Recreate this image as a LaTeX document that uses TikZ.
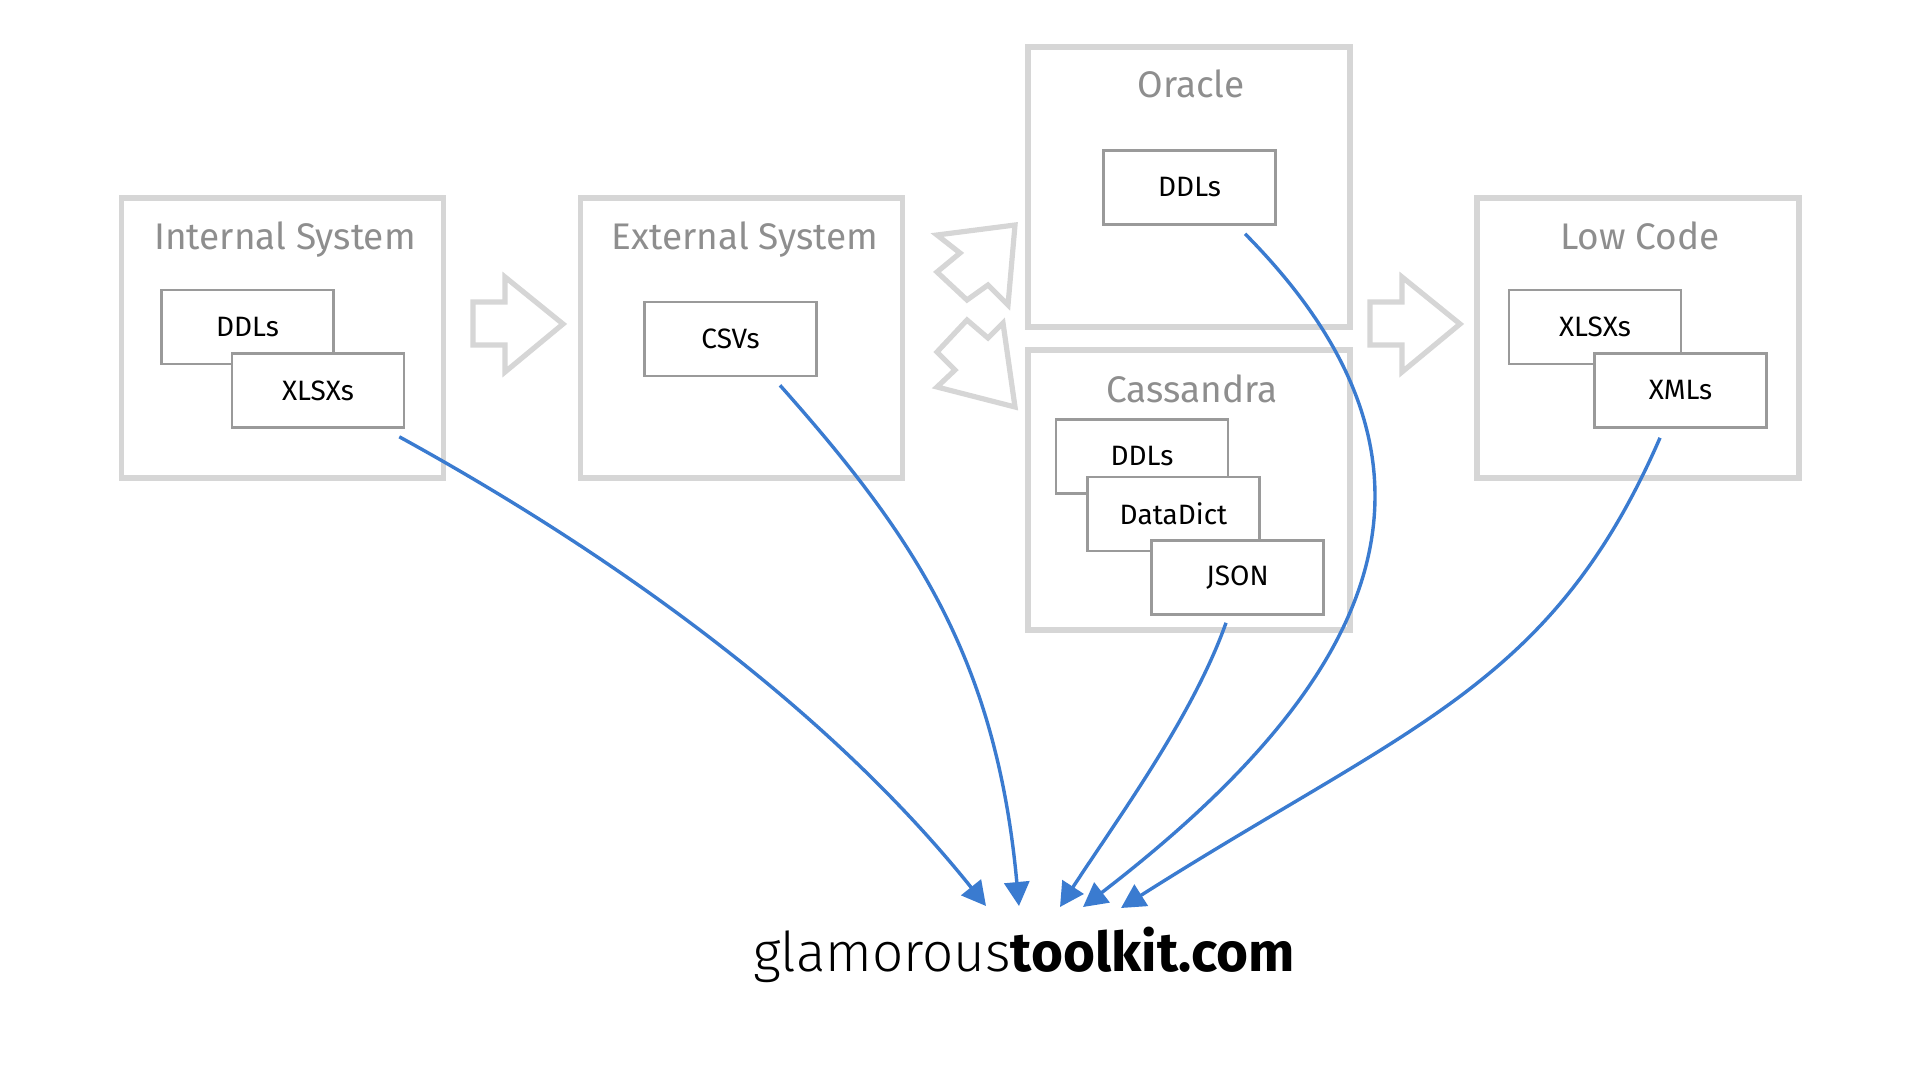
\documentclass[tikz,border=0pt]{standalone}
\usepackage{fontspec}
\setmainfont{Fira Sans}
\newfontfamily\gtlight{Fira Sans}[UprightFont={* Light},BoldFont={* Bold}]
\usetikzlibrary{arrows.meta}
\definecolor{outergray}{HTML}{D6D6D6}
\definecolor{innergray}{HTML}{9A9A9A}
\definecolor{titlegray}{HTML}{8E8E8E}
\definecolor{linkblue}{HTML}{3A7BD0}
\tikzset{
  outerbox/.style={draw=outergray,line width=2.8pt,minimum width=161pt,minimum height=140pt,inner sep=0pt},
  innerbox/.style={draw=innergray,fill=white,line width=1.3pt,minimum width=86pt,minimum height=37pt,inner sep=0pt,font=\fontsize{14}{16}\selectfont,text=black},
  boxtitle/.style={anchor=base,inner sep=0pt,text=titlegray,font=\fontsize{18.5}{21}\selectfont},
  blockarrow/.style={draw=outergray,line width=2.6pt,line join=miter},
  conn/.style={draw=linkblue,line width=1.7pt,-{Triangle[length=12pt,width=12.5pt]}}
}
\begin{document}
\begin{tikzpicture}[x=0.5pt,y=-0.5pt]
\useasboundingbox (0,0) rectangle (1920,1080);
% outer boxes
\node[outerbox] (internal) at (282.5,338) {};
\node[outerbox] (external) at (741.5,338) {};
\node[outerbox] (oracle) at (1189,187) {};
\node[outerbox] (cassandra) at (1189,490) {};
\node[outerbox] (lowcode) at (1638,338) {};
% titles
\node[boxtitle] (tint) at (285,250) {Internal System};
\node[boxtitle] (text) at (745,250) {External System};
\node[boxtitle] (tora) at (1191,98) {Oracle};
\node[boxtitle] (tcas) at (1192,402) {Cassandra};
\node[boxtitle] (tlow) at (1640,250) {Low Code};
% inner boxes
\node[innerbox] (iddl) at (247.5,327) {DDLs};
\node[innerbox] (ix) at (318,390.5) {XLSXs};
\node[innerbox] (cs) at (730.5,339) {CSVs};
\node[innerbox] (od) at (1189.5,187.5) {DDLs};
\node[innerbox] (cddl) at (1142,456.5) {DDLs};
\node[innerbox] (dd) at (1173.5,514) {DataDict};
\node[innerbox] (js) at (1237.5,577.5) {JSON};
\node[innerbox] (lx) at (1595,327) {XLSXs};
\node[innerbox] (xm) at (1680.5,390.5) {XMLs};
% block arrows
\draw[blockarrow] (473,302) -- (505,302) -- (505,277) -- (563,324) -- (505,372) -- (505,345) -- (473,345) -- cycle;
\draw[blockarrow] (1370,302) -- (1402,302) -- (1402,277) -- (1460,324) -- (1402,372) -- (1402,345) -- (1370,345) -- cycle;
\draw[blockarrow] (1015,225) -- (937,235) -- (960,253) -- (937,272) -- (967,300) -- (988,285) -- (1008,305) -- cycle;
\draw[blockarrow] (1015,407) -- (937,387) -- (955,370) -- (937,352) -- (967,320) -- (988,338) -- (1003,323) -- cycle;
% targets
\coordinate (t1) at (986,906);
\coordinate (t2) at (1019,906);
\coordinate (t3) at (1060,907);
\coordinate (t4) at (1083,907);
\coordinate (t5) at (1121,908);
% connectors
\draw[conn] ([shift={(-6,8)}]ix.south east) .. controls (618,557) and (830,711) .. (t1);
\draw[conn] ([shift={(49.5,8)}]cs.south) .. controls (912,534) and (996,656) .. (t2);
\draw[conn] ([shift={(-11.5,7)}]js.south) .. controls (1193,716) and (1118,818) .. (t3);
\draw[conn] ([shift={(55.5,8)}]od.south) .. controls (1483,474) and (1370,686) .. (t4);
\draw[conn] ([shift={(-20.5,9)}]xm.south) .. controls (1552,686) and (1411,724) .. (t5);
% footer
\node[anchor=base west,inner sep=0pt,font=\gtlight\fontsize{27.4}{31}\selectfont] (site) at (753,971) {glamorous\textbf{toolkit.com}};
\end{tikzpicture}
\end{document}
